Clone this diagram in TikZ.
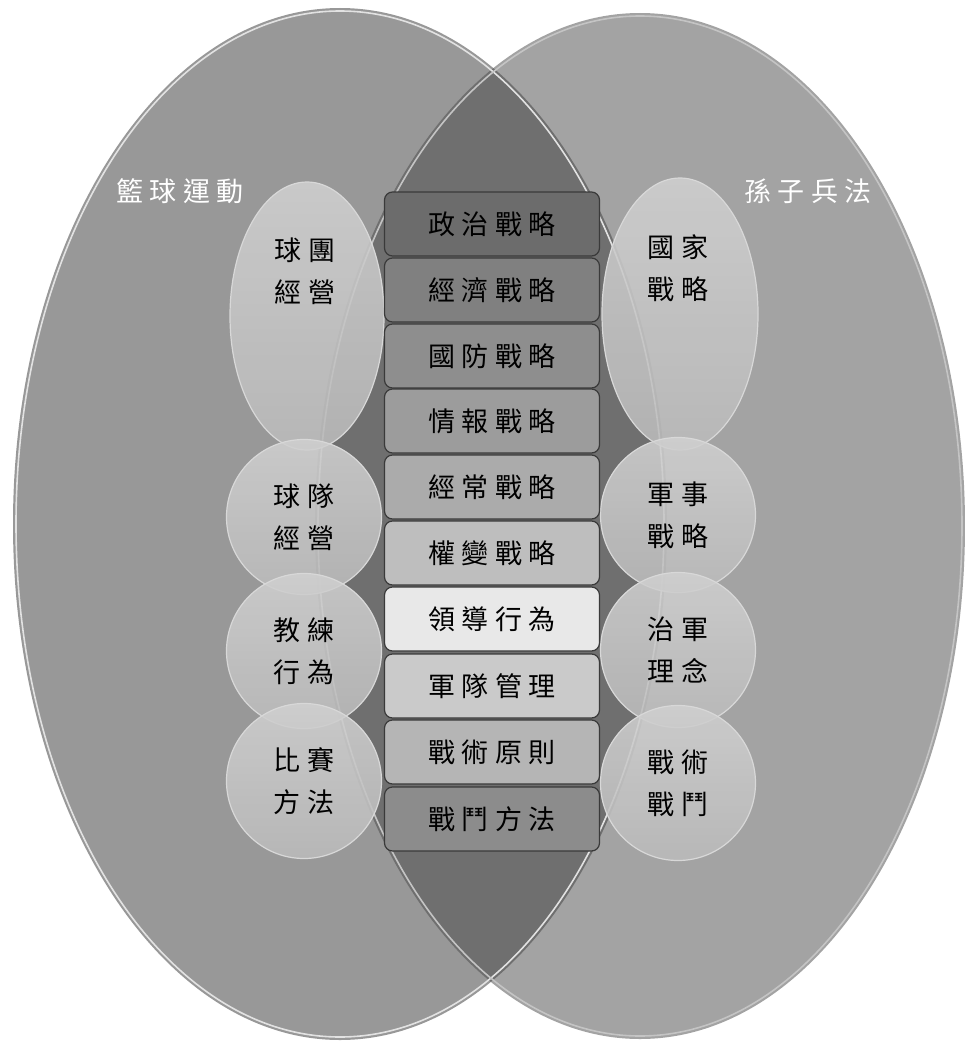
\documentclass[tikz,border=0pt]{standalone}
\usepackage{fontspec}
\newfontfamily\cjk{Noto Sans CJK TC}
\newcommand\kk{\hspace{0.24em}}
\definecolor{leftgray}{HTML}{989898}
\definecolor{rightgray}{HTML}{A3A3A3}
\definecolor{lensgray}{HTML}{6F6F6F}
\definecolor{rimlight}{HTML}{E2E2E2}
\definecolor{boxline}{HTML}{3A3A3A}
\definecolor{balltop}{HTML}{D0D0D0}
\definecolor{ballbot}{HTML}{BBBBBB}
\definecolor{ballrim}{HTML}{D8D8D8}
\definecolor{ca}{HTML}{6C6C6C}
\definecolor{cb}{HTML}{808080}
\definecolor{cc}{HTML}{8E8E8E}
\definecolor{cd}{HTML}{9C9C9C}
\definecolor{ce}{HTML}{ABABAB}
\definecolor{cf}{HTML}{BEBEBE}
\definecolor{cg}{HTML}{E8E8E8}
\definecolor{ch}{HTML}{CACACA}
\definecolor{ci}{HTML}{B5B5B5}
\definecolor{cj}{HTML}{8C8C8C}
\usetikzlibrary{shapes.geometric}
\tikzset{
  boxnode/.style={rounded corners=8pt, draw=boxline, line width=1.2pt,
    minimum width=215pt, minimum height=64pt, inner sep=0pt,
    font=\cjk\fontsize{27}{40}\selectfont, text=black},
  ballnode/.style={circle, minimum size=155pt, inner sep=0pt,
    draw=ballrim, line width=1.2pt, fill opacity=0.88,
    top color=balltop, bottom color=ballbot,
    text opacity=1, align=center,
    font=\cjk\fontsize{27}{42}\selectfont, text=black},
  eggnode/.style={ellipse, inner sep=0pt,
    draw=ballrim, line width=1.2pt, fill opacity=0.88,
    top color=balltop, bottom color=ballbot},
  eggtext/.style={align=center, font=\cjk\fontsize{27}{42}\selectfont, text=black},
  titletext/.style={font=\cjk\fontsize{27}{40}\selectfont, text=white}
}
\begin{document}
\begin{tikzpicture}[x=1pt,y=-1pt]
\useasboundingbox (0,0) rectangle (964,1041);
% big ellipses
\fill[leftgray] (340,524) ellipse [x radius=327pt, y radius=516pt];
\fill[rightgray] (640,526) ellipse [x radius=325pt, y radius=513pt];
\begin{scope}
  \clip (340,524) ellipse [x radius=327pt, y radius=516pt];
  \fill[lensgray] (640,526) ellipse [x radius=325pt, y radius=513pt];
\end{scope}
\draw[rimlight, line width=1.6pt] (340,524) ellipse [x radius=324pt, y radius=513pt];
\draw[rimlight!70!gray, line width=1.6pt] (640,526) ellipse [x radius=322pt, y radius=510pt];
% titles
\node[titletext] (t1) at (180,191) {籃\kk 球\kk 運\kk 動};
\node[titletext] (t2) at (808,191) {孫\kk 子\kk 兵\kk 法};
% left column
\node[eggnode, minimum width=154pt, minimum height=268pt] (l1) at (307,316) {};
\node[eggtext] (l1t) at (305,271) {球\kk 團\\經\kk 營};
\node[ballnode] (l2) at (304,517) {球\kk 隊\\經\kk 營};
\node[ballnode] (l3) at (304,651) {教\kk 練\\行\kk 為};
\node[ballnode] (l4) at (304,781) {比\kk 賽\\方\kk 法};
% right column
\node[eggnode, minimum width=156pt, minimum height=272pt] (r1) at (680,314) {};
\node[eggtext] (r1t) at (678,268) {國\kk 家\\戰\kk 略};
\node[ballnode] (r2) at (678,515) {軍\kk 事\\戰\kk 略};
\node[ballnode] (r3) at (678,650) {治\kk 軍\\理\kk 念};
\node[ballnode] (r4) at (678,783) {戰\kk 術\\戰\kk 鬥};
% central boxes
\node[boxnode, fill=ca] (b1) at (492,224) {政\kk 治\kk 戰\kk 略};
\node[boxnode, fill=cb] (b2) at (492,290) {經\kk 濟\kk 戰\kk 略};
\node[boxnode, fill=cc] (b3) at (492,356) {國\kk 防\kk 戰\kk 略};
\node[boxnode, fill=cd] (b4) at (492,421) {情\kk 報\kk 戰\kk 略};
\node[boxnode, fill=ce] (b5) at (492,487) {經\kk 常\kk 戰\kk 略};
\node[boxnode, fill=cf] (b6) at (492,553) {權\kk 變\kk 戰\kk 略};
\node[boxnode, fill=cg] (b7) at (492,619) {領\kk 導\kk 行\kk 為};
\node[boxnode, fill=ch] (b8) at (492,686) {軍\kk 隊\kk 管\kk 理};
\node[boxnode, fill=ci] (b9) at (492,752) {戰\kk 術\kk 原\kk 則};
\node[boxnode, fill=cj] (b10) at (492,819) {戰\kk 鬥\kk 方\kk 法};
\end{tikzpicture}
\end{document}
